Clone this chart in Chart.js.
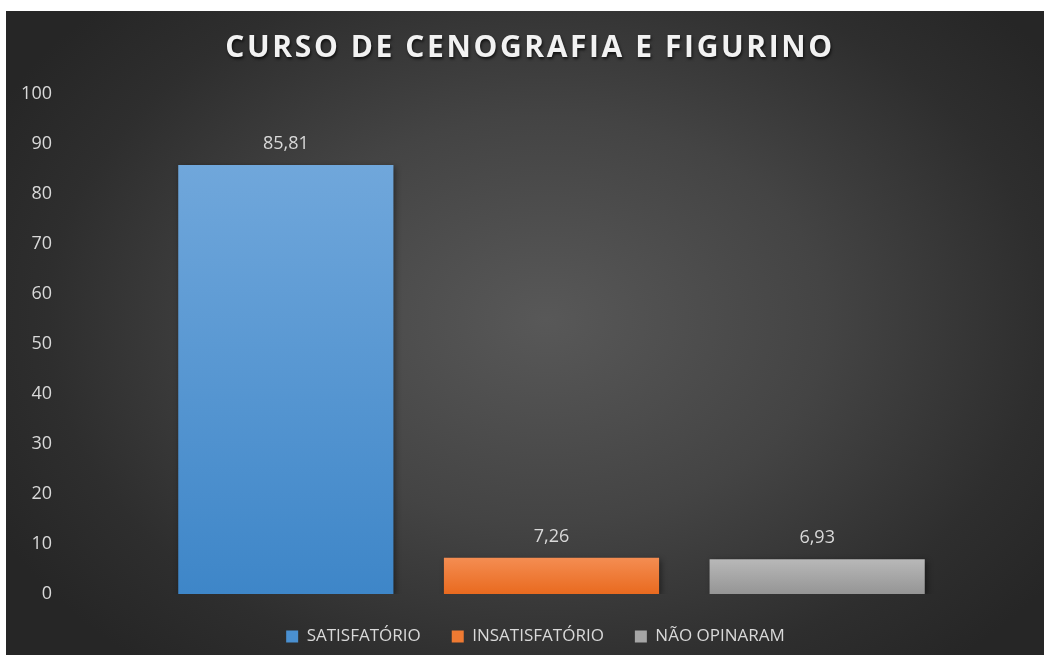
<!DOCTYPE html>
<html>
<head>
<meta charset="utf-8">
<script src="https://cdn.jsdelivr.net/npm/chart.js@4/dist/chart.umd.min.js"></script>
<style>
  body { margin: 0; background: #ffffff; }
  #box {
    position: absolute;
    left: 6px;
    top: 11px;
    width: 1038px;
    height: 644px;
    background: radial-gradient(ellipse 60% 70% at 52% 48%, #585858 0%, #444444 45%, #2e2e2e 80%, #262626 100%);
  }
</style>
</head>
<body>
<div id="box"><canvas id="chart" width="1038" height="644"></canvas></div>
<script>
const categories = ["SATISFATÓRIO", "INSATISFATÓRIO", "NÃO OPINARAM"];
const percent_values = [85.81, 7.26, 6.93];
const value_labels = ["85,81", "7,26", "6,93"];
const y_ticks = [0, 10, 20, 30, 40, 50, 60, 70, 80, 90, 100];

// top / bottom colour of each bar's gradient, and the legend swatch
const bar_colors = [
  ["#70a7db", "#3e86c8", "#4a90d0"],
  ["#f48d52", "#e96a1f", "#ef7a32"],
  ["#b8b8b8", "#959595", "#a6a6a6"],
];

const labelColor = "#d9d9d9";
const fontFamily = "'Open Sans', 'Noto Sans', sans-serif";

function barFill(context) {
  const chart = context.chart;
  const area = chart.chartArea;
  if (!area) {
    return bar_colors[context.dataIndex][2];
  }
  const yScale = chart.scales.y;
  const top = yScale.getPixelForValue(percent_values[context.dataIndex]);
  const bottom = yScale.getPixelForValue(0);
  const grad = chart.ctx.createLinearGradient(0, top, 0, bottom);
  grad.addColorStop(0, bar_colors[context.dataIndex][0]);
  grad.addColorStop(1, bar_colors[context.dataIndex][1]);
  return grad;
}

// spaced-out title with a soft drop shadow, legend nudged left
const boxStyle = {
  id: "boxStyle",
  beforeDraw(chart) {
    const ctx = chart.ctx;
    const t = chart.titleBlock;
    if (t && !t._styled) {
      const origTitle = t.draw.bind(t);
      t.draw = function () {
        ctx.save();
        ctx.translate(5, 0);
        ctx.letterSpacing = "2.6px";
        ctx.shadowColor = "rgba(0,0,0,0.7)";
        ctx.shadowBlur = 3;
        ctx.shadowOffsetX = 1;
        ctx.shadowOffsetY = 2;
        origTitle();
        ctx.restore();
      };
      t._styled = true;
    }
    const lg = chart.legend;
    if (lg && !lg._styled) {
      const origLegend = lg.draw.bind(lg);
      lg.draw = function () {
        ctx.save();
        ctx.translate(-16, 0);
        origLegend();
        ctx.restore();
      };
      lg._styled = true;
    }
  },
};

const barShadow = {
  id: "barShadow",
  beforeDatasetsDraw(chart) {
    const ctx = chart.ctx;
    ctx.save();
    ctx.shadowColor = "rgba(0,0,0,0.45)";
    ctx.shadowBlur = 6;
    ctx.shadowOffsetX = 2;
    ctx.shadowOffsetY = 2;
  },
  afterDatasetsDraw(chart) {
    chart.ctx.restore();
  },
};

const valueLabels = {
  id: "valueLabels",
  afterDatasetsDraw(chart) {
    const ctx = chart.ctx;
    const meta = chart.getDatasetMeta(0);
    ctx.save();
    ctx.fillStyle = labelColor;
    ctx.font = "18px " + fontFamily;
    ctx.textAlign = "center";
    ctx.textBaseline = "middle";
    meta.data.forEach(function (bar, i) {
      ctx.fillText(value_labels[i], bar.x, bar.y - 21);
    });
    ctx.restore();
  },
};

const config = {
  type: "bar",
  data: {
    labels: categories,
    datasets: [
      {
        label: "CURSO DE CENOGRAFIA E FIGURINO",
        data: percent_values,
        backgroundColor: barFill,
        borderWidth: 0,
        categoryPercentage: 1,
        barPercentage: 0.81,
      },
    ],
  },
  options: {
    responsive: false,
    animation: false,
    layout: { padding: 0 },
    plugins: {
      title: {
        display: true,
        text: "CURSO DE CENOGRAFIA E FIGURINO",
        color: "#f2f2f2",
        font: { family: fontFamily, size: 30, weight: "bold" },
        padding: { top: 19, bottom: 28 },
      },
      legend: {
        display: true,
        position: "bottom",
        fullSize: false,
        labels: {
          color: labelColor,
          font: { family: fontFamily, size: 17 },
          boxWidth: 12,
          boxHeight: 12,
          padding: 31,
          generateLabels: function () {
            return categories.map(function (name, i) {
              return {
                text: name,
                fillStyle: bar_colors[i][2],
                strokeStyle: bar_colors[i][2],
                lineWidth: 0,
                fontColor: labelColor,
                index: i,
              };
            });
          },
        },
        onClick: null,
      },
      tooltip: { enabled: false },
    },
    scales: {
      x: {
        display: true,
        grid: { display: false, drawTicks: false },
        border: { display: false },
        ticks: { display: false },
        afterFit: function (s) {
          s.height = 3;
        },
      },
      y: {
        min: 0,
        max: 100,
        afterBuildTicks: function (s) {
          s.ticks = y_ticks.map(function (v) {
            return { value: v };
          });
        },
        grid: { display: false, drawTicks: false },
        border: { display: false },
        ticks: {
          color: labelColor,
          font: { family: fontFamily, size: 18 },
          padding: 101,
        },
        afterFit: function (s) {
          s.width = 147;
          s.paddingTop = 0;
          s.paddingBottom = 0;
        },
      },
      yRight: {
        position: "right",
        display: true,
        grid: { display: false, drawTicks: false },
        border: { display: false },
        ticks: { display: false },
        afterFit: function (s) {
          s.width = 94;
          s.paddingTop = 0;
          s.paddingBottom = 0;
        },
      },
    },
  },
  plugins: [boxStyle, barShadow, valueLabels],
};

new Chart(document.getElementById("chart"), config);
</script>
</body>
</html>
